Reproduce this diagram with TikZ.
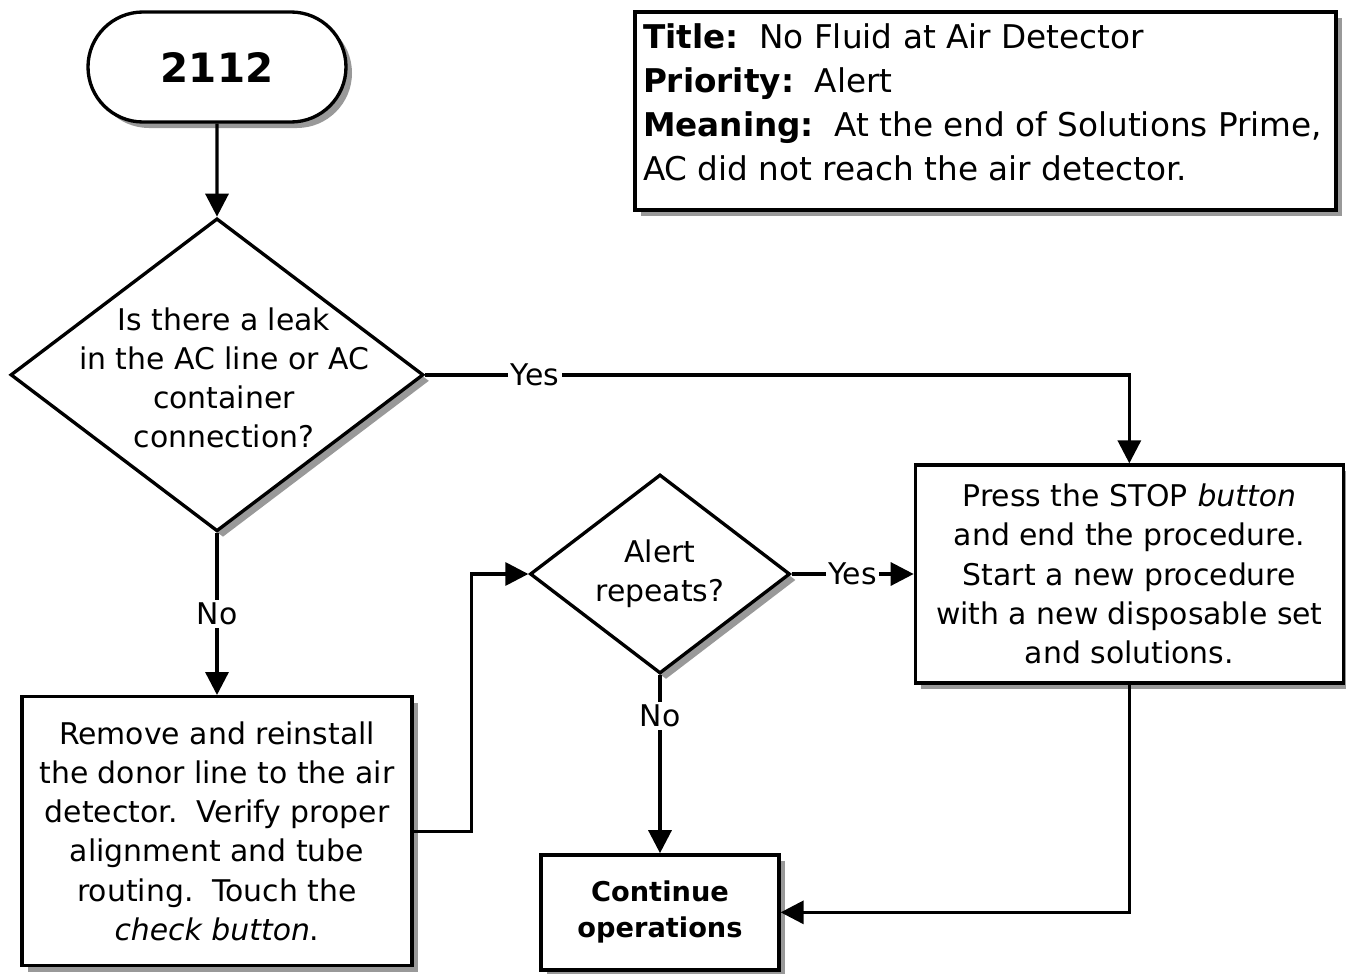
\documentclass[tikz,border=0pt]{standalone}
\usepackage{fontspec}
\setmainfont{DejaVu Sans}
\usetikzlibrary{positioning, shapes.geometric, shapes.misc, shadows, arrows.meta}

\begin{document}
\begin{tikzpicture}[
    , line width = 1.9pt
    , font = \fontsize{17}{22.3}\selectfont
    , sh/.style = {
      , drop shadow = {shadow xshift = 0.12cm, shadow yshift = -0.12cm, fill = black!40, opacity = 1}
    }
    , box/.style = {
      , draw
      , fill = white
      , sh
      , align = center
      , inner sep = 0pt
    }
    , term/.style = {
      , box
      , rounded rectangle
      , minimum width = 5.16cm
      , minimum height = 2.2cm
      , font = \fontsize{23}{27}\selectfont\bfseries
    }
    , decision/.style = {box, diamond}
    , arr/.style = {-{Triangle[length = 0.46cm, width = 0.46cm]}}
    , lbl/.style = {fill = white, inner sep = 1.5pt}
    , node distance = 1.86cm
  ]
    \useasboundingbox (0,0) rectangle (26.92,-19.48);

    % alarm header
    \node (start) [term] at (4.34,-1.34) {2112};
    \node (info) [box, minimum width = 14.02cm, minimum height = 3.96cm] at (19.71,-2.22) {};
    \node (info-text) [below right = 0.24cm and 0.16cm of info.north west, align = left, inner sep = 0pt,
      font = \fontsize{18.6}{25}\selectfont]
      {\textbf{Title:}\ \ No Fluid at Air Detector\\
       \textbf{Priority:}\ \ Alert\\
       \textbf{Meaning:}\ \ At the end of Solutions Prime,\\
       AC did not reach the air detector.};

    % first question
    \node (leak) [decision, minimum width = 8.26cm, minimum height = 6.26cm, below = of start] {};
    \node (leak-text) [align = center, xshift = 0.14cm, yshift = -0.06cm] at (leak)
      {Is there a leak\\ in the AC line or AC\\ container\\ connection?};

    \node (fix) [box, minimum width = 7.8cm, minimum height = 5.38cm, below = 3.24cm of leak]
      {Remove and reinstall\\ the donor line to the air\\ detector.\ \ Verify proper\\
       alignment and tube\\ routing.\ \ Touch the\\ \textit{check button}.};

    % second question
    \node (again) [decision, minimum width = 5.2cm, minimum height = 3.98cm] at (13.2,-11.48) {};
    \node (again-text) [align = center] at (again) {Alert\\ repeats?};

    \node (stop) [box, minimum width = 8.56cm, minimum height = 4.36cm, right = 2.44cm of again]
      {Press the STOP \textit{button}\\ and end the procedure.\\ Start a new procedure\\
       with a new disposable set\\ and solutions.};

    \node (done) [box, minimum width = 4.76cm, minimum height = 2.3cm, below = 3.56cm of again,
      font = \fontsize{15.5}{20.5}\selectfont\bfseries] {Continue\\ operations};

    % connectors
    \draw [arr] (start) -- (leak);
    \draw [arr] (leak.east) -| node [lbl, pos = 0.078] {Yes} (stop.north);
    \draw [arr] (leak.south) -- node [lbl, midway] {No} (fix.north);
    \draw [arr] (fix.east) -- ++(1.16,0) |- (again.west);
    \draw [arr] (again.east) -- node [lbl, midway] {Yes} (stop.west);
    \draw [arr] (again.south) -- node [lbl, pos = 0.23] {No} (done.north);
    \draw [arr] (stop.south) |- (done.east);
  \end{tikzpicture}
\end{document}
